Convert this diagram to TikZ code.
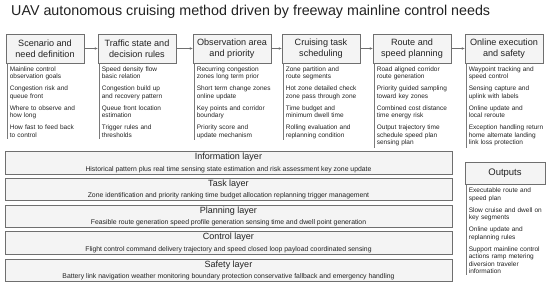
\documentclass[tikz,border=0pt]{standalone}
\usepackage{fontspec}
\setmainfont{Liberation Sans}
\usetikzlibrary{arrows.meta,calc}
\definecolor{bordc}{HTML}{6F6F6F}
\definecolor{fillc}{HTML}{F4F4F4}
\definecolor{txtc}{HTML}{222222}
\definecolor{linec}{HTML}{7A7A7A}
\begin{document}
\begin{tikzpicture}[x=1pt,y=-1pt,
 hdr/.style={draw=bordc, fill=fillc, line width=0.7pt, minimum width=78pt, minimum height=29pt, inner sep=1pt, align=center, font=\fontsize{9.1}{11}\selectfont, text=txtc},
 items/.style={anchor=north west, inner sep=0pt, align=left, text width=80pt, font=\fontsize{6.5}{7.5}\selectfont, text=txtc},
 vline/.style={draw=linec, line width=0.8pt},
 flow/.style={-{Stealth[length=3pt,width=2.5pt]}, draw=bordc, line width=0.6pt},
 layer/.style={draw=bordc, fill=fillc, line width=0.7pt, minimum width=447pt, minimum height=22.5pt, inner sep=0pt, align=center, text=txtc},
]
\useasboundingbox (0,0) rectangle (550,287);
\node[anchor=west, inner sep=0pt, text=txtc, font=\fontsize{14.3}{16}\selectfont] (title) at (11,12) {UAV autonomous cruising method driven by freeway mainline control needs};

\node[hdr] (h1) at (45,48.5) {Scenario and\\need definition};
\node[hdr] (h2) at (137,48.5) {Traffic state and\\decision rules};
\node[hdr] (h3) at (232,48.5) {Observation area\\and priority};
\node[hdr] (h4) at (321,48.5) {Cruising task\\scheduling};
\node[hdr] (h5) at (412,48.5) {Route and\\speed planning};
\node[hdr] (h6) at (504,48.5) {Online execution\\and safety};

\foreach \a/\b in {h1/h2,h2/h3,h3/h4,h4/h5,h5/h6}
  \draw[flow] (\a.east) -- (\b.west);

\node[items] (i1) at ($(h1.south west)+(4,3)$) {Mainline control\\observation goals\\[4.5pt]Congestion risk and\\queue front\\[4.5pt]Where to observe and\\how long\\[4.5pt]How fast to feed back\\to control};
\node[items] (i2) at ($(h2.south west)+(4,3)$) {Speed density flow\\basic relation\\[4.5pt]Congestion build up\\and recovery pattern\\[4.5pt]Queue front location\\estimation\\[4.5pt]Trigger rules and\\thresholds};
\node[items] (i3) at ($(h3.south west)+(4,3)$) {Recurring congestion\\zones long term prior\\[4.5pt]Short term change zones\\online update\\[4.5pt]Key points and corridor\\boundary\\[4.5pt]Priority score and\\update mechanism};
\node[items] (i4) at ($(h4.south west)+(4,3)$) {Zone partition and\\route segments\\[4.5pt]Hot zone detailed check\\zone pass through zone\\[4.5pt]Time budget and\\minimum dwell time\\[4.5pt]Rolling evaluation and\\replanning condition};
\node[items] (i5) at ($(h5.south west)+(4,3)$) {Road aligned corridor\\route generation\\[4.5pt]Priority guided sampling\\toward key zones\\[4.5pt]Combined cost distance\\time energy risk\\[4.5pt]Output trajectory time\\schedule speed plan\\sensing plan};
\node[items] (i6) at ($(h6.south west)+(4,3)$) {Waypoint tracking and\\speed control\\[4.5pt]Sensing capture and\\uplink with labels\\[4.5pt]Online update and\\local reroute\\[4.5pt]Exception handling return\\home alternate landing\\link loss protection};

\foreach \n in {1,...,6}
  \draw[vline] ($(h\n.south west)+(1.5,0)$) -- ($(h\n.south west |- i\n.south)+(1.5,1.5)$);

\node[layer] (L1) at (228.5,163) {{\fontsize{9}{10}\selectfont Information layer}\\[-0.5pt]{\fontsize{6.85}{8}\selectfont Historical pattern plus real time sensing state estimation and risk assessment key zone update}};
\node[layer] (L2) at (228.5,189.5) {{\fontsize{9}{10}\selectfont Task layer}\\[-0.5pt]{\fontsize{6.85}{8}\selectfont Zone identification and priority ranking time budget allocation replanning trigger management}};
\node[layer] (L3) at (228.5,216.5) {{\fontsize{9}{10}\selectfont Planning layer}\\[-0.5pt]{\fontsize{6.85}{8}\selectfont Feasible route generation speed profile generation sensing time and dwell point generation}};
\node[layer] (L4) at (228.5,243) {{\fontsize{9}{10}\selectfont Control layer}\\[-0.5pt]{\fontsize{6.85}{8}\selectfont Flight control command delivery trajectory and speed closed loop payload coordinated sensing}};
\node[layer] (L5) at (228.5,270.5) {{\fontsize{9}{10}\selectfont Safety layer}\\[-0.5pt]{\fontsize{6.85}{8}\selectfont Battery link navigation weather monitoring boundary protection conservative fallback and emergency handling}};

\node[hdr, minimum width=80pt, minimum height=21.5pt, font=\fontsize{9.5}{11}\selectfont] (out) at (505,173.5) {Outputs};
\node[items] (io) at ($(out.south west)+(4,3)$) {Executable route and\\speed plan\\[4.5pt]Slow cruise and dwell on\\key segments\\[4.5pt]Online update and\\replanning rules\\[4.5pt]Support mainline control\\actions ramp metering\\diversion traveler\\information};
\draw[vline] ($(out.south west)+(1.5,0)$) -- ($(out.south west |- io.south)+(1.5,1.5)$);
\end{tikzpicture}
\end{document}
